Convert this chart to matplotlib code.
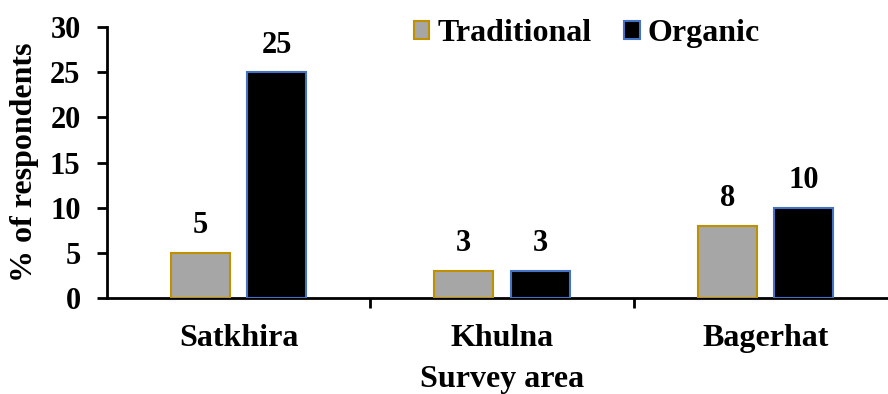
import matplotlib
matplotlib.use("Agg")
import matplotlib.pyplot as plt
import numpy as np

areas = ["Satkhira", "Khulna", "Bagerhat"]
traditional = [5, 3, 8]
organic = [25, 3, 10]
yticks = [0, 5, 10, 15, 20, 25, 30]

plt.rcParams["font.family"] = ["Liberation Serif", "DejaVu Serif"]
plt.rcParams["font.weight"] = "bold"

fig = plt.figure(figsize=(8.88, 3.94), dpi=100)
ax = fig.add_axes([107 / 888, 1 - 298 / 394, 790 / 888, 271 / 394])

x = np.arange(len(areas))
w = 0.224
off = 0.145
b1 = ax.bar(x - off, traditional, w, color="#A6A6A6", edgecolor="#BF9000",
            linewidth=1.5, label="Traditional", zorder=3)
b2 = ax.bar(x + off, organic, w, color="#000000", edgecolor="#4472C4",
            linewidth=1.5, label="Organic", zorder=3)

for bars, vals in ((b1, traditional), (b2, organic)):
    for r, v in zip(bars, vals):
        ax.annotate(f"{v}", (r.get_x() + r.get_width() / 2, v),
                    xytext=(0, 9), textcoords="offset points",
                    ha="center", va="bottom", fontsize=22, fontweight="bold")

ax.set_xlim(-0.5, 2.5)
ax.set_ylim(0, 30)
ax.set_yticks(yticks)
ax.set_yticklabels([str(t) for t in yticks], fontsize=22, fontweight="bold")
ax.set_xticks(x)
ax.set_xticklabels(areas, fontsize=23, fontweight="bold")
ax.set_xticks([0.5, 1.5], minor=True)
ax.tick_params(axis="x", which="major", length=0, pad=19)
ax.tick_params(axis="x", which="minor", length=7, width=2, direction="out")
ax.tick_params(axis="y", length=7, width=2, direction="out", pad=12)

for s in ("top", "right"):
    ax.spines[s].set_visible(False)
for s in ("left", "bottom"):
    ax.spines[s].set_linewidth(2)

ax.set_ylabel("% of respondents", fontsize=23, fontweight="bold", labelpad=8)
ax.set_xlabel("Survey area", fontsize=23, fontweight="bold", labelpad=8)

ax.legend(loc="center left", bbox_to_anchor=(0.388, 0.975), ncol=2, frameon=False,
          handlelength=0.5, handleheight=0.5, handletextpad=0.25,
          columnspacing=1.0, borderpad=0, borderaxespad=0,
          prop={"size": 23, "weight": "bold"})

fig.savefig("out.png", dpi=100)
